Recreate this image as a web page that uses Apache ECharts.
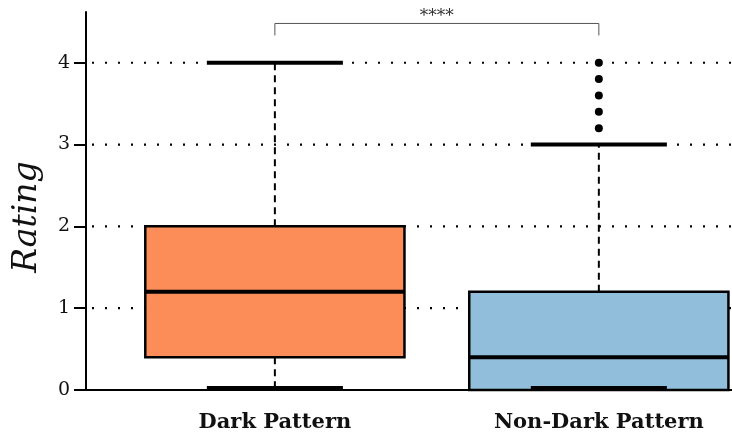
<!DOCTYPE html>
<html>
<head>
<meta charset="utf-8">
<script src="https://cdn.jsdelivr.net/npm/echarts@6/dist/echarts.min.js"></script>
<style>html,body{margin:0;padding:0;background:#fff}#c{width:732px;height:436px}</style>
</head>
<body>
<div id="c"></div>
<script>
// ---- data ----
const categories = ['Dark Pattern', 'Non-Dark Pattern'];
const mins    = [0, 0];
const q1s     = [0.4, 0];
const medians = [1.2, 0.4];
const q3s     = [2.0, 1.2];
const maxs    = [4.0, 3.0];
const outliers = [[1, 3.2], [1, 3.4], [1, 3.6], [1, 3.8], [1, 4.0]];
const yTicks = [0, 1, 2, 3, 4];
const boxColors = ['#fc8d59', '#91bfdb'];
const sigPair = [0, 1];
const sigY = 4.48;
const sigLabel = '****';
const yTitle = 'Rating';

const boxData = categories.map((c, i) => [i, mins[i], q1s[i], medians[i], q3s[i], maxs[i]]);

const chart = echarts.init(document.getElementById('c'), null, {renderer: 'canvas'});
const serif = 'DejaVu Serif';
const X_MIN = -0.583, X_MAX = 1.411;

chart.setOption({
  animation: false,
  grid: {left: 86, right: 0, top: 12, bottom: 46},
  graphic: [{
    type: 'text', x: 27, y: 217, rotation: Math.PI / 2,
    style: {text: yTitle, fontFamily: serif, fontStyle: 'italic', fontSize: 33, fill: '#111',
      align: 'center', verticalAlign: 'middle'}
  }],
  xAxis: {
    type: 'value', min: X_MIN, max: X_MAX,
    axisLine: {show: true, onZero: false, lineStyle: {color: '#000', width: 2}},
    axisTick: {show: false},
    splitLine: {show: false},
    axisLabel: {
      customValues: [0, 1],
      formatter: v => categories[Math.round(v)],
      fontFamily: serif, fontWeight: 'bold', fontSize: 21, color: '#111', margin: 22
    }
  },
  yAxis: {
    type: 'value', min: 0, max: 4.62, interval: 1,
    axisLine: {show: true, onZero: false, lineStyle: {color: '#000', width: 2}},
    axisTick: {show: true, customValues: yTicks, inside: false, length: 12,
      lineStyle: {color: '#000', width: 2}},
    axisLabel: {customValues: yTicks, fontFamily: serif, fontSize: 19, color: '#111', margin: 16},
    splitLine: {show: false}
  },
  series: [
    {
      type: 'custom',
      data: yTicks.filter(v => v > 0).map(v => [v]),
      z: 1,
      silent: true,
      renderItem: function (params, api) {
        const y = api.value(0);
        const a = api.coord([X_MIN, y]);
        const b = api.coord([X_MAX, y]);
        return {type: 'line', shape: {x1: a[0] + 6, y1: a[1], x2: b[0], y2: b[1]},
          style: {stroke: '#000', lineWidth: 2.2, lineDash: [2, 11]}};
      }
    },
    {
      type: 'custom',
      data: boxData,
      z: 3,
      renderItem: function (params, api) {
        const x = api.value(0);
        const i = params.dataIndex;
        const hw = 0.4, cw = 0.21;
        const pMin = api.coord([x, api.value(1)]);
        const pQ1 = api.coord([x, api.value(2)]);
        const pMed = api.coord([x, api.value(3)]);
        const pQ3 = api.coord([x, api.value(4)]);
        const pMax = api.coord([x, api.value(5)]);
        const left = api.coord([x - hw, 0])[0];
        const right = api.coord([x + hw, 0])[0];
        const cl = api.coord([x - cw, 0])[0];
        const cr = api.coord([x + cw, 0])[0];
        const children = [];
        children.push({type: 'line', shape: {x1: pQ3[0], y1: pQ3[1], x2: pMax[0], y2: pMax[1]},
          style: {stroke: '#000', lineWidth: 2, lineDash: [7, 5]}});
        children.push({type: 'line', shape: {x1: pQ1[0], y1: pQ1[1], x2: pMin[0], y2: pMin[1]},
          style: {stroke: '#000', lineWidth: 2, lineDash: [7, 5]}});
        children.push({type: 'rect', shape: {x: left, y: pQ3[1], width: right - left, height: pQ1[1] - pQ3[1]},
          style: {fill: boxColors[i], stroke: '#000', lineWidth: 2.5}});
        children.push({type: 'line', shape: {x1: left, y1: pMed[1], x2: right, y2: pMed[1]},
          style: {stroke: '#000', lineWidth: 4}});
        children.push({type: 'line', shape: {x1: cl, y1: pMax[1], x2: cr, y2: pMax[1]},
          style: {stroke: '#000', lineWidth: 4}});
        children.push({type: 'line', shape: {x1: cl, y1: pMin[1] - 2, x2: cr, y2: pMin[1] - 2},
          style: {stroke: '#000', lineWidth: 4}});
        return {type: 'group', children: children};
      }
    },
    {
      type: 'scatter',
      data: outliers,
      symbol: 'circle',
      symbolSize: 8,
      itemStyle: {color: '#000', opacity: 1},
      z: 4
    },
    {
      type: 'custom',
      data: [[sigPair[0], sigPair[1], sigY]],
      z: 5,
      renderItem: function (params, api) {
        const a = api.coord([api.value(0), api.value(2)]);
        const b = api.coord([api.value(1), api.value(2)]);
        const drop = 12;
        return {type: 'group', children: [
          {type: 'polyline', shape: {points: [[a[0], a[1] + drop], [a[0], a[1]], [b[0], b[1]], [b[0], b[1] + drop]]},
            style: {stroke: '#555', lineWidth: 1, fill: null}},
          {type: 'text', x: (a[0] + b[0]) / 2, y: a[1] + 2,
            style: {text: sigLabel, fontSize: 17, fontFamily: serif, fill: '#333', align: 'center', verticalAlign: 'bottom'}}
        ]};
      }
    }
  ]
});
</script>
</body>
</html>
